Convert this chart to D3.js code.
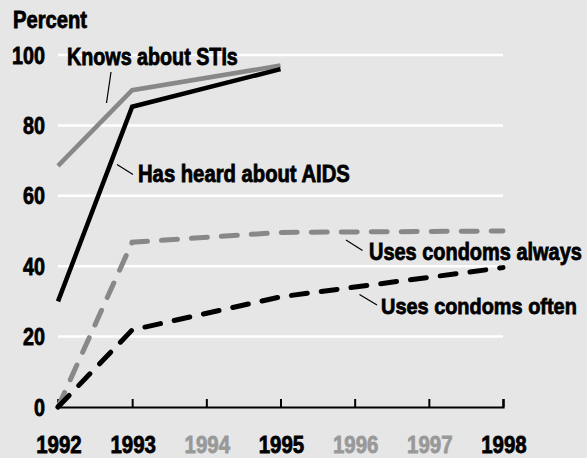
<!DOCTYPE html>
<html><head><meta charset="utf-8">
<script src="https://cdn.jsdelivr.net/npm/d3@7"></script>
<style>
html,body{margin:0;padding:0;background:#e6e6e6;}
svg{display:block;}
text{font-family:"Liberation Sans",Arial,sans-serif;font-weight:bold;}
</style></head>
<body>
<script>
const years = [1992,1993,1994,1995,1996,1997,1998];
const yearHighlight = [true,true,false,true,false,false,true];
const yTicks = [0,20,40,60,80,100];

const stiYears = [1992,1993,1995];
const stiValues = [68.5,90,97];
const aidsYears = [1992,1993,1995];
const aidsValues = [30,85.3,96];
const alwaysYears = [1992,1993,1995,1998];
const alwaysValues = [0,46.8,49.6,50];
const oftenYears = [1992,1993,1995,1998];
const oftenValues = [0,21.9,31.3,39.6];

const labelTexts = ["Knows about STIs","Has heard about AIDS","Uses condoms always","Uses condoms often"];

const W=587,H=458;
const svg=d3.select("body").append("svg").attr("width",W).attr("height",H);
svg.append("rect").attr("width",W).attr("height",H).attr("fill","#e6e6e6");

const x=d3.scaleLinear().domain([1992,1998]).range([58,503]);
const y=d3.scaleLinear().domain([0,100]).range([407,55]);

// condensed text: draw at origin, then scale horizontally to a target width
// anchor: 0 = start, 0.5 = middle, 1 = end
function ctext(parent,str,px,py,size,width,anchor,color){
  const t=parent.append("text").attr("x",0).attr("y",0).attr("font-size",size)
    .attr("fill",color).attr("stroke",color).attr("stroke-width",0.8).text(str);
  const nat=t.node().getComputedTextLength();
  const k=width/nat;
  t.attr("transform",`translate(${px-anchor*width},${py}) scale(${k},1)`);
  return t;
}

// gridlines
svg.append("g").selectAll("line").data(yTicks.filter(d=>d>0)).join("line")
  .attr("x1",x(1992)).attr("x2",x(1998))
  .attr("y1",d=>y(d)).attr("y2",d=>y(d))
  .attr("stroke","#fff").attr("stroke-width",2.5);

// y labels
const gy=svg.append("g");
yTicks.forEach(d=>ctext(gy,String(d),45,y(d)+8.5,24.5,String(d).length*11,1,"#000"));

ctext(svg,"Percent",13,28.3,23,74,0,"#000");

// x axis
const xAxis=d3.axisBottom(x).tickValues(years).tickSize(-8).tickFormat("");
const gx=svg.append("g").attr("transform",`translate(0,${y(0)})`).call(xAxis);
gx.select(".domain").attr("stroke","#000").attr("stroke-width",2.2);
gx.selectAll(".tick line").attr("stroke","#000").attr("stroke-width",2);

const gxl=svg.append("g");
years.forEach((d,i)=>ctext(gxl,String(d),x(d)+1,453.3,23.5,45.5,0.5,yearHighlight[i]?"#000":"#999"));

const line=d3.line().x(d=>x(d[0])).y(d=>y(d[1]));
function draw(ys,vs,color,dash){
  const p=svg.append("path").datum(ys.map((d,i)=>[d,vs[i]]))
    .attr("d",line).attr("fill","none").attr("stroke",color)
    .attr("stroke-width",dash?5:4.5).attr("stroke-linejoin","miter");
  if(dash){p.attr("stroke-dasharray",dash).attr("stroke-linecap","round");}
}
draw(stiYears,stiValues,"#888888",null);
draw(aidsYears,aidsValues,"#000",null);
draw(alwaysYears,alwaysValues,"#888888","16,14");
draw(oftenYears,oftenValues,"#000","16,14");

// annotation placement (pixels)
const labelPos=[[67,65],[138,181.5],[369,260],[381,314]];
const labelW=[171,212,213,196];
const pointerPos=[[111,72,106.5,103],[117,164.5,133,174.5],[346,240,362.5,250.5],[359.5,294.5,377,305]];
labelTexts.forEach((t,i)=>{
  ctext(svg,t,labelPos[i][0],labelPos[i][1],23,labelW[i],0,"#000");
  const l=pointerPos[i];
  svg.append("line").attr("x1",l[0]).attr("y1",l[1]).attr("x2",l[2]).attr("y2",l[3])
    .attr("stroke","#000").attr("stroke-width",1.2);
});
</script>
</body></html>
